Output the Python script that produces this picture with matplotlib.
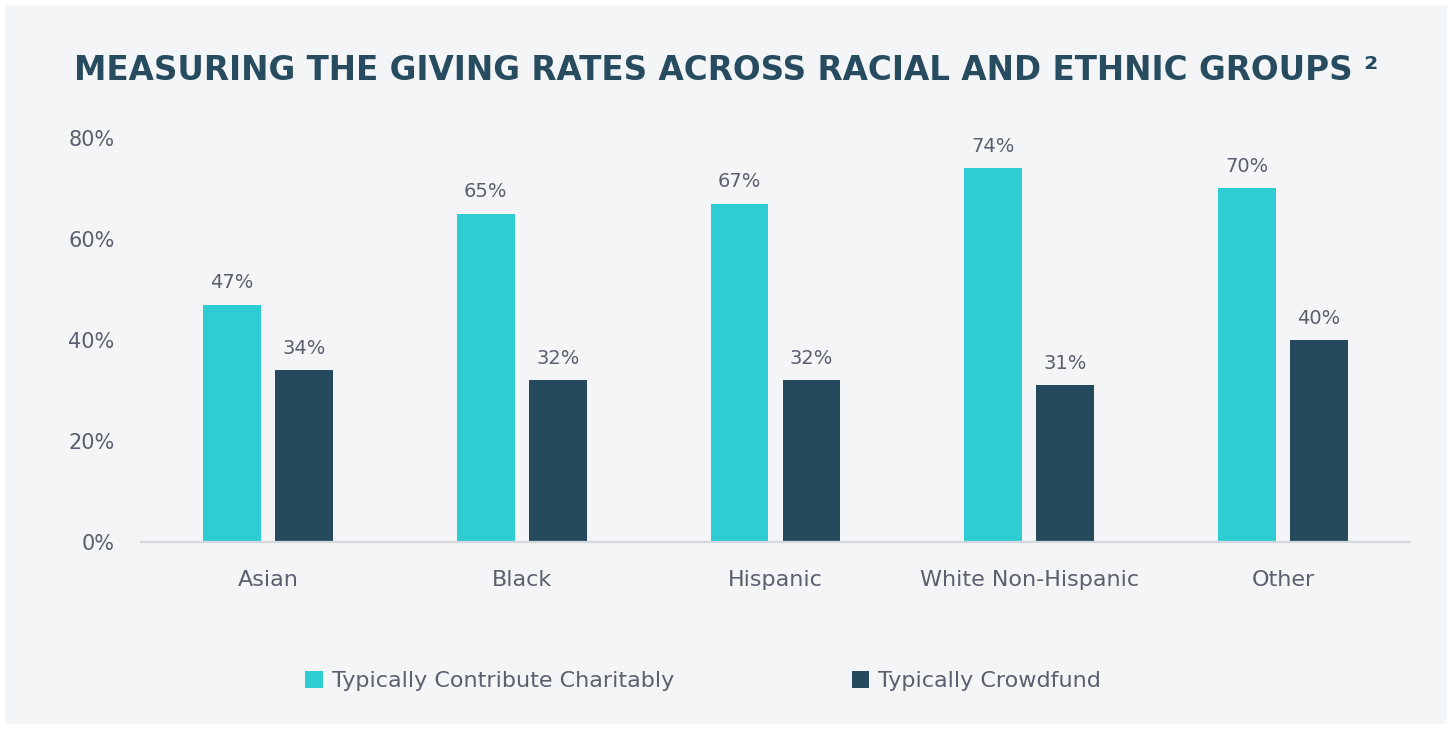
import matplotlib
matplotlib.use("Agg")
import matplotlib.pyplot as plt
from matplotlib.patches import Rectangle, Patch
import numpy as np

categories = ["Asian", "Black", "Hispanic", "White Non-Hispanic", "Other"]
charitable = [47, 65, 67, 74, 70]
crowdfund = [34, 32, 32, 31, 40]
series_names = ["Typically Contribute Charitably", "Typically Crowdfund"]
yticks = [0, 20, 40, 60, 80]
ytick_labels = ["0%", "20%", "40%", "60%", "80%"]
title = "MEASURING THE GIVING RATES ACROSS RACIAL AND ETHNIC GROUPS \u00b2"

CYAN = "#2ECCD3"
DARK = "#254A5D"
TEXT = "#5A606D"
TITLE = "#274B5F"
PANEL = "#F4F5F7"

plt.rcParams['font.family'] = ['DejaVu Sans']

W, H = 1452, 729
fig = plt.figure(figsize=(W / 100, H / 100), dpi=100)
fig.patch.set_facecolor("white")
fig.add_artist(Rectangle((5 / W, 5 / H), (W - 10) / W, (H - 10) / H,
                         transform=fig.transFigure, facecolor=PANEL,
                         edgecolor="none", zorder=-10))

left, right = 141 / W, 1410 / W
bottom, top = 1 - 542 / H, 1 - 138 / H
ax = fig.add_axes([left, bottom, right - left, top - bottom])
ax.set_facecolor("none")

x = np.arange(len(categories))
bw = 0.228
off = 0.142
b1 = ax.bar(x - off, charitable, bw, color=CYAN, zorder=3)
b2 = ax.bar(x + off, crowdfund, bw, color=DARK, zorder=3)

for bars, vals in ((b1, charitable), (b2, crowdfund)):
    for rect, v in zip(bars, vals):
        ax.annotate(f"{v}%", (rect.get_x() + rect.get_width() / 2, v),
                    xytext=(0, 9), textcoords="offset points",
                    ha="center", va="bottom", fontsize=14, color=TEXT,
                    annotation_clip=False)

ax.set_xlim(-0.5, len(categories) - 0.5)
ax.set_ylim(0, 80)
ax.set_yticks(yticks)
ax.set_yticklabels(ytick_labels)
ax.set_xticks(x)
ax.set_xticklabels(categories)
ax.tick_params(axis="y", length=0, pad=19, labelsize=15, labelcolor=TEXT)
ax.tick_params(axis="x", length=0, pad=20, labelsize=16, labelcolor=TEXT)
for s in ("top", "right", "left"):
    ax.spines[s].set_visible(False)
ax.spines["bottom"].set_color("#D5D8DC")
ax.spines["bottom"].set_linewidth(1.6)
ax.spines["bottom"].set_zorder(4)

fig.text(726 / W, 1 - 70 / H, title, ha="center", va="center",
         fontsize=23.5, fontweight="bold", color=TITLE)

handles = [Patch(facecolor=CYAN, edgecolor="none"),
           Patch(facecolor=DARK, edgecolor="none")]
fig.legend(handles, series_names, loc="center",
           bbox_to_anchor=(703 / W, 1 - 681 / H), ncol=2, frameon=False,
           fontsize=16, labelcolor=TEXT, handlelength=0.8,
           handleheight=0.8, handletextpad=0.4, columnspacing=8.0,
           borderpad=0, borderaxespad=0)

fig.savefig("out.png", dpi=100, facecolor=fig.get_facecolor())
